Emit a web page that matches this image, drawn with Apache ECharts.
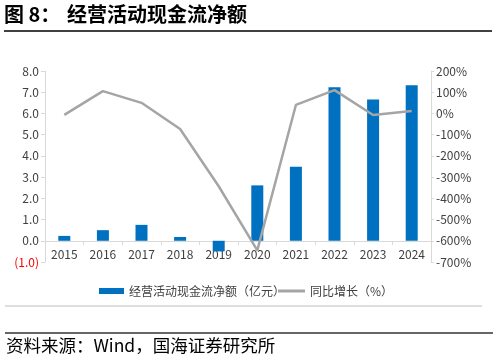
<!DOCTYPE html>
<html>
<head>
<meta charset="utf-8">
<script src="https://cdn.jsdelivr.net/npm/echarts@6/dist/echarts.min.js"></script>
<style>
html,body{margin:0;padding:0;background:#fff;}
#c{width:498px;height:362px;}
</style>
</head>
<body>
<div id="c"></div>
<script>
const years = ['2015','2016','2017','2018','2019','2020','2021','2022','2023','2024'];
const cashFlow = [0.23, 0.50, 0.75, 0.18, -0.50, 2.61, 3.49, 7.24, 6.66, 7.33];
const growth = [-7, 105, 50, -73, -343, -645, 40, 110, -7, 11];
const leftTicks = { min: -1, max: 8, interval: 1 };
const rightTicks = { min: -700, max: 200, interval: 100 };
const barName = '经营活动现金流净额（亿元）';
const lineName = '同比增长（%）';

const FONT = '"Noto Sans CJK SC", "Noto Sans", sans-serif';
const chart = echarts.init(document.getElementById('c'), null, { renderer: 'canvas' });
chart.setOption({
  animation: false,
  backgroundColor: '#fff',
  textStyle: { fontFamily: FONT },
  graphic: [
    { type: 'text', left: 4, top: 4, style: { text: '图 8：', font: 'bold 20px ' + FONT, fill: '#000' } },
    { type: 'text', left: 67, top: 4, style: { text: '经营活动现金流净额', font: 'bold 20px ' + FONT, fill: '#000' } },
    { type: 'line', shape: { x1: 4, y1: 31, x2: 492, y2: 31 }, style: { stroke: '#000', lineWidth: 1.5 } },
    { type: 'line', shape: { x1: 5, y1: 306, x2: 482, y2: 306 }, style: { stroke: '#BFBFBF', lineWidth: 1 } },
    { type: 'line', shape: { x1: 5, y1: 333, x2: 493, y2: 333 }, style: { stroke: '#333', lineWidth: 1.5 } },
    { type: 'text', left: 6, top: 337, style: { text: '资料来源：Wind，国海证券研究所', font: '17.5px ' + FONT, fill: '#000' } }
  ],
  legend: [
    {
      left: 94, top: 280,
      itemWidth: 25, itemHeight: 6,
      textStyle: { fontSize: 12, color: '#404040', fontFamily: FONT },
      data: [{ name: barName, icon: 'rect' }]
    },
    {
      left: 273, top: 280,
      itemWidth: 27, itemHeight: 3,
      textStyle: { fontSize: 12, color: '#404040', fontFamily: FONT },
      data: [{ name: lineName, icon: 'rect' }]
    }
  ],
  grid: { left: 45, right: 67, top: 71, bottom: 100 },
  xAxis: {
    type: 'category',
    data: years,
    offset: -21,
    axisLine: { onZero: false, lineStyle: { color: '#D9D9D9' } },
    axisTick: { show: true, length: 4, lineStyle: { color: '#D9D9D9' } },
    axisLabel: { color: '#404040', fontSize: 12, margin: 7 }
  },
  yAxis: [
    {
      type: 'value', min: leftTicks.min, max: leftTicks.max, interval: leftTicks.interval,
      splitLine: { show: false },
      axisLine: { show: true, lineStyle: { color: '#D9D9D9' } },
      axisTick: { show: true, length: 4, lineStyle: { color: '#D9D9D9' } },
      axisLabel: {
        fontSize: 12, color: '#404040', margin: 6,
        formatter: v => v < 0 ? '{r|(' + Math.abs(v).toFixed(1) + ')}' : v.toFixed(1),
        rich: { r: { color: '#FF0000', fontSize: 12 } }
      }
    },
    {
      type: 'value', min: rightTicks.min, max: rightTicks.max, interval: rightTicks.interval,
      position: 'right',
      splitLine: { show: false },
      axisLine: { show: true, lineStyle: { color: '#D9D9D9' } },
      axisTick: { show: true, length: 3, lineStyle: { color: '#D9D9D9' } },
      axisLabel: { fontSize: 12, color: '#404040', margin: 5, formatter: v => v + '%' }
    }
  ],
  series: [
    {
      name: barName, type: 'bar', yAxisIndex: 0, data: cashFlow,
      barWidth: 12, itemStyle: { color: '#0070C0' }
    },
    {
      name: lineName, type: 'line', yAxisIndex: 1, data: growth,
      symbol: 'none', lineStyle: { color: '#A5A5A5', width: 2.5 }, itemStyle: { color: '#A5A5A5' }, z: 3
    }
  ]
});
</script>
</body>
</html>
